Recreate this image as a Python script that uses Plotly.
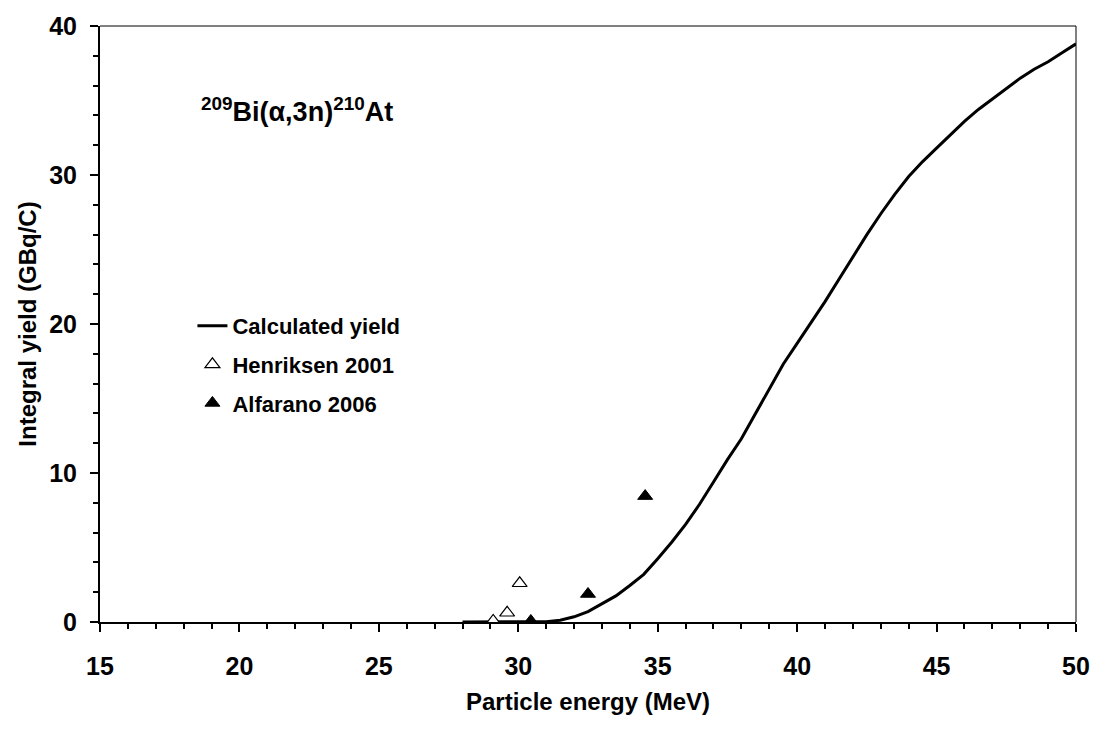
import plotly.graph_objects as go

# Calculated integral yield curve (MeV, GBq/C)
calc_energy = [28, 29, 30, 31, 31.5, 32, 32.5, 33, 33.5, 34, 34.5, 35, 35.5, 36,
               36.5, 37, 37.5, 38, 38.5, 39, 39.5, 40, 40.5, 41, 41.5, 42, 42.5,
               43, 43.5, 44, 44.5, 45, 45.5, 46, 46.5, 47, 47.5, 48, 48.5, 49,
               49.5, 50]
calc_yield = [0, 0, 0, 0.02, 0.12, 0.35, 0.7, 1.2, 1.75, 2.45, 3.2, 4.25, 5.35,
              6.55, 7.9, 9.4, 10.9, 12.3, 14.0, 15.7, 17.3, 18.7, 20.1, 21.5,
              23.0, 24.5, 26.0, 27.4, 28.7, 29.9, 30.9, 31.8, 32.7, 33.6, 34.4,
              35.1, 35.8, 36.5, 37.1, 37.6, 38.2, 38.8]

# Experimental data
henriksen_energy = [29.1, 29.6, 30.05]
henriksen_yield = [0.07, 0.62, 2.6]

alfarano_energy = [30.45, 32.5, 34.55]
alfarano_yield = [0.07, 1.88, 8.45]

x_ticks = [15, 20, 25, 30, 35, 40, 45, 50]
y_ticks = [0, 10, 20, 30, 40]

FONT = "Arial, 'Liberation Sans', sans-serif"

fig = go.Figure()

fig.add_trace(go.Scatter(
    x=calc_energy, y=calc_yield, mode="lines", name="Calculated yield",
    line=dict(color="black", width=3), legendgroup="a",
))
fig.add_trace(go.Scatter(
    x=henriksen_energy, y=henriksen_yield, mode="markers", name="Henriksen 2001",
    marker=dict(symbol="triangle-up", size=13, color="white",
                line=dict(color="black", width=1.2)),
    legendgroup="b",
))
fig.add_trace(go.Scatter(
    x=alfarano_energy, y=alfarano_yield, mode="markers", name="Alfarano 2006",
    marker=dict(symbol="triangle-up", size=13, color="black",
                line=dict(color="black", width=1)),
    legendgroup="c",
))

axis_common = dict(
    showgrid=False, zeroline=False, showline=True, linecolor="black",
    linewidth=2, ticks="outside", ticklen=8, tickwidth=1.5, tickcolor="black",
    tickfont=dict(family=FONT, size=25, color="black", weight="bold"),
)

fig.update_xaxes(
    range=[15, 50], tickvals=x_ticks, ticklabelstandoff=13,
    minor=dict(dtick=1, ticks="outside", ticklen=5, tickwidth=1.5,
               tickcolor="black"),
    title=dict(text="Particle energy (MeV)", standoff=14,
               font=dict(family=FONT, size=24, color="black", weight="bold")),
    **axis_common,
)
fig.update_yaxes(
    range=[0, 40], tickvals=y_ticks, ticklabelstandoff=8,
    minor=dict(dtick=2, ticks="outside", ticklen=5, tickwidth=1.5,
               tickcolor="black"),
    title=dict(text="Integral yield (GBq/C)", standoff=6,
               font=dict(family=FONT, size=24, color="black", weight="bold")),
    **axis_common,
)

# thin top and right frame lines
fig.add_shape(type="line", xref="paper", yref="paper", x0=0, x1=1, y0=1, y1=1,
              line=dict(color="black", width=1))
fig.add_shape(type="line", xref="paper", yref="paper", x0=1, x1=1, y0=0, y1=1,
              line=dict(color="black", width=1))

fig.add_annotation(
    xref="paper", yref="paper", x=0.101, y=0.859, xanchor="left", yanchor="middle",
    text="<sup>209</sup>Bi(α,3n)<sup>210</sup>At", showarrow=False,
    font=dict(family=FONT, size=27, color="black", weight="bold"),
)

fig.update_layout(
    width=1102, height=731,
    margin=dict(l=100, r=20, t=26, b=109),
    paper_bgcolor="white", plot_bgcolor="white",
    font=dict(family=FONT, color="black"),
    showlegend=True,
    legend=dict(
        x=0.0947, y=0.532, xanchor="left", yanchor="top",
        bgcolor="rgba(0,0,0,0)", borderwidth=0,
        font=dict(family=FONT, size=22, color="black", weight="bold"),
        tracegroupgap=7, traceorder="grouped",
    ),
)

fig.write_html("out.html")
